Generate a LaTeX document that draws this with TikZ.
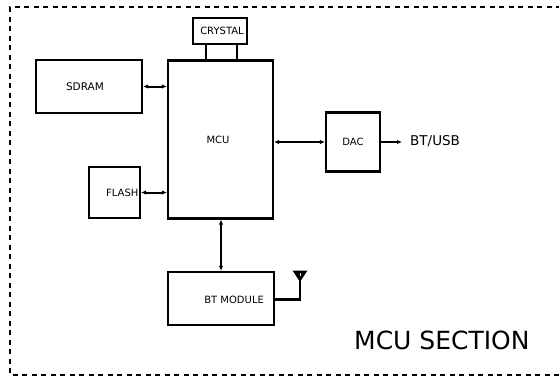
\documentclass[tikz,border=0pt]{standalone}
\usepackage{fontspec}
\setmainfont{DejaVu Sans}
\usetikzlibrary{arrows.meta}
\begin{document}
\begin{tikzpicture}[x=1pt,y=-1pt,
  blk/.style={draw, line width=2.2pt, inner sep=0pt, font=\fontsize{10}{12}\selectfont},
  conn/.style={line width=2.2pt},
  biarrow/.style={line width=2pt, {Latex[length=5pt,width=4.5pt]}-{Latex[length=5pt,width=4.5pt]}},
  arrowr/.style={line width=2pt, -{Latex[length=5pt,width=4.5pt]}},
  frame/.style={line width=2.2pt, dash pattern=on 5pt off 4.5pt},
  lbl/.style={inner sep=0pt, font=\fontsize{10}{12}\selectfont}]
\useasboundingbox (0,0) rectangle (559,380);
% frame
\coordinate (f1) at (580,7);
\coordinate (f2) at (10,7);
\coordinate (f3) at (10,375);
\coordinate (f4) at (580,375);
\draw[frame] (f1) -- (f2) -- (f3) -- (f4);
% blocks
\node[blk, minimum width=105pt, minimum height=158pt] (mcu) at (220.5,139.5) {MCU\hspace*{5pt}};
\node[blk, minimum width=54pt, minimum height=26pt] (crystal) at (220,31) {\hspace*{4pt}CRYSTAL};
\node[blk, minimum width=106pt, minimum height=53pt, font=\fontsize{10.5}{12}\selectfont] (sdram) at (89,86.5) {SDRAM\hspace*{8pt}};
\node[blk, minimum width=51pt, minimum height=51pt] (flash) at (114.5,192.5) {};
\node[lbl, anchor=east] at ([xshift=-2.5pt]flash.east) {FLASH};
\node[blk, minimum width=54pt, minimum height=59pt] (dac) at (353,142) {DAC};
\node[blk, minimum width=106pt, minimum height=53pt] (bt) at (221,298.5) {};
\node[lbl, anchor=east] at ([xshift=-11pt,yshift=-1pt]bt.east) {BT MODULE};
% crystal legs
\draw[conn] ([xshift=-14pt]crystal.south) -- ([xshift=-14pt]crystal.south |- mcu.north);
\draw[conn] ([xshift=17pt]crystal.south) -- ([xshift=17pt]crystal.south |- mcu.north);
% connectors
\draw[biarrow] (sdram.east) -- (sdram.east -| mcu.west);
\draw[biarrow] (flash.east) -- (flash.east -| mcu.west);
\draw[biarrow] (mcu.east |- dac.west) -- (dac.west);
\draw[biarrow] (mcu.south -| bt.north) -- (bt.north);
\node[inner sep=0pt, anchor=west, font=\fontsize{13.5}{15}\selectfont] (btusb) at (410,141) {BT/USB};
\draw[arrowr] (dac.east) -- ([xshift=-8pt]dac.east -| btusb.west);
% antenna
\coordinate (ant) at (300,279);
\draw[conn] ([yshift=-1pt]bt.east) -| (ant);
\draw[fill=black, line width=1pt, line join=miter] (293.5,271) -- (306.5,271) -- (300,281) -- cycle;
\draw[white, line width=0.8pt] (300,273) -- (300,276);
% title
\node[inner sep=0pt, anchor=west, font=\fontsize{25}{30}\selectfont] (title) at (354,340) {MCU SECTION};
\end{tikzpicture}
\end{document}
